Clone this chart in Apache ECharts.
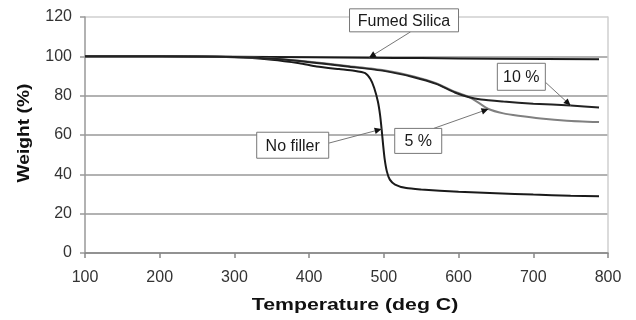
<!DOCTYPE html>
<html>
<head>
<meta charset="utf-8">
<script src="https://cdn.jsdelivr.net/npm/echarts@6/dist/echarts.min.js"></script>
<style>
  html, body { margin: 0; padding: 0; background: #fff; }
  #chart { width: 636px; height: 320px; }
</style>
</head>
<body>
<div id="chart"></div>
<script>
// Axis ranges (deg C and weight %)
const tempMin = 100, tempMax = 800, tempStep = 100;
const weightMin = 0, weightMax = 120, weightStep = 20;

// TGA curves: [temperature (deg C), weight (%)]
const fumedSilica = [[100,100],[200,100],[300,99.8],[400,99.5],[480,99.3],[550,99.1],[650,98.8],[788,98.5]];
const noFiller = [[100,100],[200,100],[300,99.5],[350,98.3],[387,96.5],[410,94.8],[440,93.5],[460,92.7],[475,91.5],
  [482,88.5],[487,84],[492,77],[495,70],[497,63],[499,55],[501,48],[504,41.5],[508,37.3],[515,34.8],[530,33],
  [550,32.3],[600,31.1],[650,30.4],[700,29.7],[750,29.1],[788,28.8]];
const tenPercent = [[100,100],[200,100],[300,99.6],[350,98.8],[387,97.6],[420,96.2],[454,94.7],[500,92.6],[540,89.4],
  [570,86],[595,81.6],[613,79.3],[630,78],[660,77],[700,75.9],[750,75],[788,74]];
const fivePercent = [[100,100],[200,100],[300,99.6],[350,98.9],[387,97.8],[420,96.5],[454,95],[500,92.9],[540,89.8],
  [570,86.3],[595,82],[612,79.6],[626,76.6],[640,73.2],[660,71],[680,69.8],[710,68.4],[745,67.3],[788,66.6]];

// Callout labels and the temperature on each curve that their arrow points at
const calloutText = ['Fumed Silica', '10 %', '5 %', 'No filler'];
const calloutCurve = [fumedSilica, tenPercent, fivePercent, noFiller];
const calloutTipTemp = [480, 750, 640, 497];

// Callout box placement: centre in data units, box size in px, arrow start as a fraction of the box
const calloutLayout = [
  { cx: 527, cy: 118.3, w: 109, h: 23, ax: 0.56, ay: 1.0 },
  { cx: 684, cy: 89.6, w: 48, h: 27, ax: 1.0, ay: 0.7 },
  { cx: 546, cy: 57.0, w: 47, h: 25, ax: 0.83, ay: 0.0 },
  { cx: 378, cy: 54.8, w: 72, h: 26, ax: 1.0, ay: 0.42 }
];

const FONT = '"Liberation Sans", Arial, Helvetica, sans-serif';

const chart = echarts.init(document.getElementById('chart'), null, { renderer: 'canvas' });

function curve(name, data, color) {
  return {
    name, type: 'line', data,
    showSymbol: false, symbol: 'none',
    smooth: 0.2,
    lineStyle: { color, width: 2 },
    z: 3
  };
}

chart.setOption({
  animation: false,
  backgroundColor: '#fff',
  grid: { left: 85, right: 28, top: 17, bottom: 67, containLabel: false },
  xAxis: {
    type: 'value', min: tempMin, max: tempMax, interval: tempStep,
    axisLine: { show: true, onZero: false, lineStyle: { color: '#888', width: 1.5 } },
    axisTick: { show: true, length: 5, lineStyle: { color: '#888', width: 1.5 } },
    axisLabel: { color: '#333', fontSize: 16, fontFamily: FONT, margin: 17 },
    splitLine: { show: false }
  },
  yAxis: [{
    type: 'value', min: weightMin, max: weightMax, interval: weightStep,
    axisLine: { show: true, lineStyle: { color: '#999', width: 1.5 } },
    axisTick: { show: true, length: 5, lineStyle: { color: '#999', width: 1.5 } },
    axisLabel: { color: '#333', fontSize: 16, fontFamily: FONT, margin: 13 },
    splitLine: {
      show: true,
      lineStyle: { color: ['#999', '#999', '#999', '#999', '#999', '#999', '#cfcfcf'], width: 1.5 }
    }
  }, {
    type: 'value', min: weightMin, max: weightMax, position: 'right',
    axisLine: { show: true, lineStyle: { color: '#cfcfcf', width: 1.5 } },
    axisTick: { show: false }, axisLabel: { show: false }, splitLine: { show: false }
  }],
  series: [
    curve('Fumed Silica', fumedSilica, '#1a1a1a'),
    curve('No filler', noFiller, '#1a1a1a'),
    curve('5 %', fivePercent, '#808080'),
    curve('10 %', tenPercent, '#222')
  ]
});

// Callouts, arrows and axis titles are drawn on top once the scales are known
const toPx = p => chart.convertToPixel({ xAxisIndex: 0, yAxisIndex: 0 }, p);
const graphics = [];

calloutText.forEach((text, i) => {
  const lay = calloutLayout[i];
  const tipPoint = calloutCurve[i].find(p => p[0] === calloutTipTemp[i]);
  const tip = toPx(tipPoint);
  const c = toPx([lay.cx, lay.cy]);
  const x0 = c[0] - lay.w / 2, y0 = c[1] - lay.h / 2;
  const start = [x0 + lay.ax * lay.w, y0 + lay.ay * lay.h];

  // leader line
  graphics.push({
    type: 'line', z: 10,
    shape: { x1: start[0], y1: start[1], x2: tip[0], y2: tip[1] },
    style: { stroke: '#777', lineWidth: 1 }
  });
  // arrow head
  const dx = tip[0] - start[0], dy = tip[1] - start[1];
  const len = Math.hypot(dx, dy), ux = dx / len, uy = dy / len;
  const hl = 7, hw = 3.2;
  const bx = tip[0] - ux * hl, by = tip[1] - uy * hl;
  graphics.push({
    type: 'polygon', z: 11,
    shape: { points: [[tip[0], tip[1]], [bx - uy * hw, by + ux * hw], [bx + uy * hw, by - ux * hw]] },
    style: { fill: '#111' }
  });
  // box
  graphics.push({
    type: 'rect', z: 12,
    shape: { x: x0, y: y0, width: lay.w, height: lay.h },
    style: { fill: '#fff', stroke: '#777', lineWidth: 1 }
  });
  graphics.push({
    type: 'text', z: 13, x: c[0], y: c[1] + 1,
    style: {
      text, fill: '#1a1a1a', font: '16px ' + FONT,
      textAlign: 'center', textVerticalAlign: 'middle', align: 'center', verticalAlign: 'middle'
    }
  });
});

// Axis titles
graphics.push({
  type: 'text', z: 13, x: 355, y: 306, scaleX: 1.33,
  style: {
    text: 'Temperature (deg C)', fill: '#111', font: 'bold 16px ' + FONT,
    textAlign: 'center', textVerticalAlign: 'middle', align: 'center', verticalAlign: 'middle'
  }
});
graphics.push({
  type: 'text', z: 13, x: 25, y: 133, rotation: Math.PI / 2, scaleX: 1.2,
  style: {
    text: 'Weight (%)', fill: '#111', font: 'bold 16px ' + FONT,
    textAlign: 'center', textVerticalAlign: 'middle', align: 'center', verticalAlign: 'middle'
  }
});

chart.setOption({ graphic: { elements: graphics } });
</script>
</body>
</html>
